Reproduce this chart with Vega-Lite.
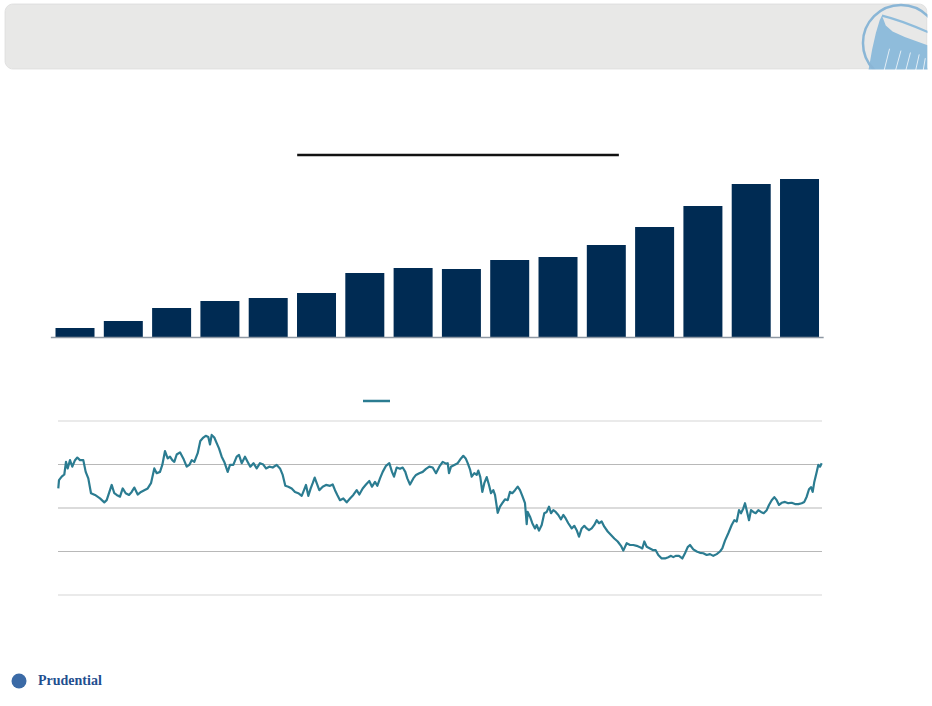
{
  "$schema": "https://vega.github.io/schema/vega-lite/v6.json",
  "width": 932,
  "height": 706,
  "padding": 0,
  "autosize": {"type": "none"},
  "background": "white",
  "config": {"view": {"stroke": null}},
  "datasets": {
    "bars": [
      {"period": 1, "value": 9.5}, {"period": 2, "value": 16.5}, {"period": 3, "value": 29.5},
      {"period": 4, "value": 36.5}, {"period": 5, "value": 39.5}, {"period": 6, "value": 44.5},
      {"period": 7, "value": 64.5}, {"period": 8, "value": 69.5}, {"period": 9, "value": 68.5},
      {"period": 10, "value": 77.5}, {"period": 11, "value": 80.5}, {"period": 12, "value": 92.5},
      {"period": 13, "value": 110.5}, {"period": 14, "value": 131.5}, {"period": 15, "value": 153.5},
      {"period": 16, "value": 158.5}
    ],
    "grid": [{"level": 0}, {"level": 10}, {"level": 20}, {"level": 30}, {"level": 40}],
    "price": [
      {"t": 0.3, "v": 24.5}, {"t": 1.0, "v": 26.4}, {"t": 3.7, "v": 27.2}, {"t": 6.3, "v": 27.7},
      {"t": 8.0, "v": 30.6}, {"t": 9.7, "v": 29.1}, {"t": 12.0, "v": 31.0}, {"t": 14.3, "v": 29.5},
      {"t": 17.0, "v": 31.0}, {"t": 19.3, "v": 31.6}, {"t": 22.0, "v": 31.0}, {"t": 25.3, "v": 31.0},
      {"t": 27.7, "v": 28.3}, {"t": 30.3, "v": 26.8}, {"t": 33.0, "v": 23.4}, {"t": 37.0, "v": 23.0},
      {"t": 42.0, "v": 22.2}, {"t": 46.3, "v": 21.3}, {"t": 48.7, "v": 21.8}, {"t": 51.0, "v": 23.4},
      {"t": 53.7, "v": 25.3}, {"t": 56.3, "v": 23.4}, {"t": 58.7, "v": 23.0}, {"t": 62.0, "v": 22.6},
      {"t": 64.7, "v": 24.5}, {"t": 67.7, "v": 23.4}, {"t": 71.0, "v": 23.0}, {"t": 73.7, "v": 23.7},
      {"t": 76.3, "v": 24.7}, {"t": 79.7, "v": 23.1}, {"t": 83.0, "v": 23.7}, {"t": 86.3, "v": 24.1},
      {"t": 89.7, "v": 24.5}, {"t": 93.0, "v": 25.7}, {"t": 96.3, "v": 29.1}, {"t": 98.7, "v": 28.0},
      {"t": 102.0, "v": 28.3}, {"t": 104.3, "v": 29.9}, {"t": 107.0, "v": 33.1}, {"t": 109.7, "v": 31.4},
      {"t": 112.0, "v": 31.8}, {"t": 114.3, "v": 31.0}, {"t": 116.3, "v": 30.6}, {"t": 118.7, "v": 32.3},
      {"t": 122.0, "v": 32.8}, {"t": 125.3, "v": 31.4}, {"t": 128.7, "v": 29.5}, {"t": 131.3, "v": 29.9},
      {"t": 133.7, "v": 31.0}, {"t": 136.3, "v": 30.6}, {"t": 139.7, "v": 32.6}, {"t": 142.3, "v": 35.4},
      {"t": 145.3, "v": 36.2}, {"t": 147.7, "v": 36.6}, {"t": 150.3, "v": 36.3}, {"t": 152.0, "v": 34.6},
      {"t": 153.7, "v": 36.8}, {"t": 156.3, "v": 36.2}, {"t": 158.7, "v": 34.9}, {"t": 161.0, "v": 33.7},
      {"t": 163.7, "v": 31.8}, {"t": 166.3, "v": 30.6}, {"t": 169.7, "v": 28.3}, {"t": 172.0, "v": 29.9},
      {"t": 175.3, "v": 29.9}, {"t": 178.7, "v": 31.8}, {"t": 181.0, "v": 32.2}, {"t": 183.7, "v": 30.3},
      {"t": 187.0, "v": 31.8}, {"t": 189.7, "v": 30.6}, {"t": 192.3, "v": 29.5}, {"t": 195.5, "v": 30.3},
      {"t": 198.7, "v": 29.1}, {"t": 202.0, "v": 30.3}, {"t": 205.3, "v": 30.0}, {"t": 208.0, "v": 29.1},
      {"t": 211.3, "v": 29.5}, {"t": 214.7, "v": 29.3}, {"t": 218.7, "v": 29.9}, {"t": 222.0, "v": 29.1},
      {"t": 224.7, "v": 27.6}, {"t": 227.3, "v": 25.1}, {"t": 230.3, "v": 24.9}, {"t": 233.7, "v": 24.5},
      {"t": 237.0, "v": 23.7}, {"t": 240.3, "v": 23.4}, {"t": 243.7, "v": 22.8}, {"t": 246.0, "v": 24.1},
      {"t": 248.0, "v": 25.3}, {"t": 250.3, "v": 22.8}, {"t": 252.7, "v": 24.5}, {"t": 254.7, "v": 25.7},
      {"t": 256.7, "v": 27.0}, {"t": 258.7, "v": 25.7}, {"t": 261.3, "v": 24.1}, {"t": 264.7, "v": 24.9},
      {"t": 268.0, "v": 25.3}, {"t": 272.0, "v": 25.1}, {"t": 274.7, "v": 25.4}, {"t": 277.0, "v": 24.1},
      {"t": 279.3, "v": 23.0}, {"t": 282.0, "v": 21.8}, {"t": 285.3, "v": 22.2}, {"t": 288.7, "v": 21.3},
      {"t": 292.0, "v": 22.2}, {"t": 295.3, "v": 23.0}, {"t": 298.7, "v": 24.1}, {"t": 301.3, "v": 23.1},
      {"t": 304.7, "v": 24.5}, {"t": 308.0, "v": 25.4}, {"t": 311.3, "v": 26.2}, {"t": 314.0, "v": 24.9},
      {"t": 317.0, "v": 26.0}, {"t": 319.3, "v": 25.1}, {"t": 322.0, "v": 26.8}, {"t": 324.7, "v": 28.3},
      {"t": 328.0, "v": 29.7}, {"t": 331.3, "v": 30.3}, {"t": 334.0, "v": 28.3}, {"t": 336.0, "v": 27.2},
      {"t": 338.7, "v": 29.3}, {"t": 342.0, "v": 29.0}, {"t": 344.7, "v": 29.3}, {"t": 347.3, "v": 28.3},
      {"t": 349.3, "v": 26.8}, {"t": 352.0, "v": 25.4}, {"t": 355.3, "v": 26.8}, {"t": 358.0, "v": 27.6},
      {"t": 361.3, "v": 28.0}, {"t": 364.7, "v": 28.3}, {"t": 368.0, "v": 29.0}, {"t": 371.3, "v": 29.5},
      {"t": 374.7, "v": 29.3}, {"t": 378.0, "v": 28.0}, {"t": 381.3, "v": 29.5}, {"t": 384.7, "v": 30.6},
      {"t": 388.0, "v": 30.2}, {"t": 389.7, "v": 30.3}, {"t": 391.0, "v": 28.0}, {"t": 393.0, "v": 29.5},
      {"t": 396.3, "v": 29.9}, {"t": 399.7, "v": 30.3}, {"t": 403.0, "v": 31.4}, {"t": 405.3, "v": 32.0},
      {"t": 407.7, "v": 31.4}, {"t": 409.7, "v": 30.3}, {"t": 412.0, "v": 28.9}, {"t": 413.7, "v": 27.2},
      {"t": 416.3, "v": 28.0}, {"t": 418.7, "v": 27.6}, {"t": 420.3, "v": 28.6}, {"t": 422.3, "v": 27.1},
      {"t": 424.3, "v": 23.7}, {"t": 426.3, "v": 25.7}, {"t": 428.7, "v": 27.1}, {"t": 431.0, "v": 25.3},
      {"t": 433.0, "v": 23.4}, {"t": 435.3, "v": 24.1}, {"t": 437.0, "v": 23.0}, {"t": 439.7, "v": 18.9},
      {"t": 442.0, "v": 20.3}, {"t": 444.3, "v": 21.1}, {"t": 447.0, "v": 22.0}, {"t": 449.7, "v": 21.8},
      {"t": 452.0, "v": 23.7}, {"t": 454.3, "v": 23.4}, {"t": 457.0, "v": 24.1}, {"t": 459.7, "v": 24.9},
      {"t": 462.0, "v": 24.1}, {"t": 464.3, "v": 22.8}, {"t": 467.0, "v": 21.1}, {"t": 468.7, "v": 16.3},
      {"t": 469.7, "v": 19.1}, {"t": 472.0, "v": 18.0}, {"t": 474.3, "v": 16.5}, {"t": 477.0, "v": 15.3},
      {"t": 478.7, "v": 16.1}, {"t": 481.0, "v": 14.8}, {"t": 483.7, "v": 16.1}, {"t": 486.3, "v": 18.8},
      {"t": 488.7, "v": 19.1}, {"t": 491.0, "v": 20.3}, {"t": 493.0, "v": 18.8}, {"t": 495.3, "v": 19.5},
      {"t": 497.7, "v": 19.1}, {"t": 500.3, "v": 18.4}, {"t": 503.0, "v": 17.4}, {"t": 505.3, "v": 18.4},
      {"t": 507.7, "v": 17.6}, {"t": 510.3, "v": 16.5}, {"t": 513.7, "v": 15.3}, {"t": 516.3, "v": 15.9},
      {"t": 518.7, "v": 14.9}, {"t": 521.0, "v": 13.4}, {"t": 523.7, "v": 15.3}, {"t": 526.3, "v": 15.9},
      {"t": 528.7, "v": 15.3}, {"t": 531.0, "v": 14.9}, {"t": 533.7, "v": 15.3}, {"t": 536.3, "v": 16.1},
      {"t": 538.7, "v": 17.2}, {"t": 541.0, "v": 16.5}, {"t": 543.7, "v": 16.9}, {"t": 546.3, "v": 15.7},
      {"t": 549.7, "v": 14.6}, {"t": 553.0, "v": 13.8}, {"t": 556.3, "v": 13.0}, {"t": 559.7, "v": 12.3},
      {"t": 563.0, "v": 11.3}, {"t": 565.3, "v": 10.2}, {"t": 568.7, "v": 11.9}, {"t": 572.0, "v": 11.5},
      {"t": 575.3, "v": 11.5}, {"t": 578.7, "v": 11.3}, {"t": 582.0, "v": 11.0}, {"t": 584.3, "v": 10.7},
      {"t": 586.3, "v": 12.3}, {"t": 588.7, "v": 11.1}, {"t": 592.0, "v": 10.7}, {"t": 595.3, "v": 10.3},
      {"t": 597.7, "v": 10.3}, {"t": 600.3, "v": 9.2}, {"t": 603.7, "v": 8.4}, {"t": 607.0, "v": 8.4},
      {"t": 610.3, "v": 8.7}, {"t": 613.0, "v": 9.0}, {"t": 615.3, "v": 8.7}, {"t": 617.7, "v": 9.0},
      {"t": 621.0, "v": 9.0}, {"t": 624.3, "v": 8.4}, {"t": 627.0, "v": 9.6}, {"t": 629.7, "v": 11.0},
      {"t": 632.0, "v": 11.5}, {"t": 635.3, "v": 10.5}, {"t": 638.7, "v": 10.0}, {"t": 642.0, "v": 9.7},
      {"t": 645.3, "v": 9.6}, {"t": 648.7, "v": 9.2}, {"t": 652.0, "v": 9.4}, {"t": 655.3, "v": 9.0},
      {"t": 658.7, "v": 9.4}, {"t": 662.0, "v": 10.0}, {"t": 664.3, "v": 10.7}, {"t": 667.0, "v": 12.5},
      {"t": 670.3, "v": 14.2}, {"t": 673.7, "v": 16.1}, {"t": 676.3, "v": 17.2}, {"t": 678.7, "v": 16.9},
      {"t": 681.0, "v": 19.5}, {"t": 683.0, "v": 18.8}, {"t": 685.3, "v": 19.9}, {"t": 687.0, "v": 21.1},
      {"t": 688.7, "v": 19.5}, {"t": 691.0, "v": 17.2}, {"t": 693.0, "v": 19.5}, {"t": 695.3, "v": 19.1},
      {"t": 697.7, "v": 18.8}, {"t": 700.3, "v": 19.5}, {"t": 703.0, "v": 19.1}, {"t": 705.7, "v": 18.8},
      {"t": 708.7, "v": 19.5}, {"t": 711.0, "v": 20.7}, {"t": 713.7, "v": 21.8}, {"t": 716.3, "v": 22.5},
      {"t": 718.7, "v": 21.8}, {"t": 721.0, "v": 20.7}, {"t": 723.7, "v": 21.2}, {"t": 727.0, "v": 21.4},
      {"t": 730.3, "v": 21.1}, {"t": 733.7, "v": 21.2}, {"t": 737.0, "v": 20.9}, {"t": 740.3, "v": 20.9},
      {"t": 743.7, "v": 21.1}, {"t": 746.3, "v": 21.4}, {"t": 748.7, "v": 22.6}, {"t": 751.0, "v": 24.3},
      {"t": 753.0, "v": 24.8}, {"t": 754.7, "v": 23.7}, {"t": 756.3, "v": 26.0}, {"t": 758.7, "v": 28.3},
      {"t": 760.3, "v": 29.9}, {"t": 762.0, "v": 29.5}, {"t": 763.7, "v": 30.3}
    ]
  },
  "layer": [
    {
      "data": {"values": [{}]},
      "layer": [
        {
          "mark": {"type": "rect", "cornerRadius": 8, "fill": "#e8e8e7", "stroke": "#dcdcdc", "strokeWidth": 0.8},
          "encoding": {
            "x": {"datum": 0.54, "type": "quantitative", "scale": {"domain": [0, 100], "nice": false, "padding": 0}, "axis": null},
            "x2": {"datum": 99.46},
            "y": {"datum": 0.57, "type": "quantitative", "scale": {"domain": [0, 100], "reverse": true, "nice": false, "padding": 0}, "axis": null},
            "y2": {"datum": 9.77}
          }
        },
        {
          "mark": {"type": "point", "shape": "M -0.86 0.75 L -0.76 0.18 L -0.66 -0.26 L -0.56 -0.6 L -0.5 -0.72 L -0.46 -0.62 L -0.4 -0.46 L -0.22 -0.3 L 0.1 -0.16 L 0.7 0.06 L 0.7 0.75 Z", "filled": true, "fill": "#8fbcdb", "opacity": 1, "size": 5776},
          "encoding": {
            "x": {"datum": 96.67, "type": "quantitative", "axis": null},
            "y": {"datum": 6.09, "type": "quantitative", "axis": null}
          }
        },
        {
          "mark": {"type": "point", "shape": "M -0.45 0.75 L -0.3 0.15 M -0.15 0.75 L 0.0 0.2 M 0.12 0.75 L 0.25 0.25 M 0.38 0.75 L 0.48 0.3 M 0.58 0.75 L 0.64 0.4", "filled": false, "stroke": "#ffffff", "strokeWidth": 1, "opacity": 0.75, "size": 5776},
          "encoding": {
            "x": {"datum": 96.67, "type": "quantitative", "axis": null},
            "y": {"datum": 6.09, "type": "quantitative", "axis": null}
          }
        },
        {
          "mark": {"type": "point", "shape": "M -0.5 -0.72 Q 0 -0.6 0.72 -0.28", "filled": false, "stroke": "#8fbcdb", "strokeWidth": 2.2, "opacity": 1, "size": 5776},
          "encoding": {
            "x": {"datum": 96.67, "type": "quantitative", "axis": null},
            "y": {"datum": 6.09, "type": "quantitative", "axis": null}
          }
        },
        {
          "mark": {"type": "point", "shape": "circle", "filled": false, "stroke": "#8ab6d6", "strokeWidth": 2.5, "opacity": 1, "size": 5776},
          "encoding": {
            "x": {"datum": 96.67, "type": "quantitative", "axis": null},
            "y": {"datum": 6.09, "type": "quantitative", "axis": null}
          }
        },
        {
          "mark": {"type": "rect", "fill": "#ffffff"},
          "encoding": {
            "x": {"datum": 90.13, "type": "quantitative", "axis": null},
            "x2": {"datum": 100},
            "y": {"datum": 9.84, "type": "quantitative", "axis": null},
            "y2": {"datum": 13.5}
          }
        },
        {
          "mark": {"type": "rect", "fill": "#ffffff"},
          "encoding": {
            "x": {"datum": 99.52, "type": "quantitative", "axis": null},
            "x2": {"datum": 100},
            "y": {"datum": 0, "type": "quantitative", "axis": null},
            "y2": {"datum": 10}
          }
        },
        {
          "mark": {"type": "point", "shape": "circle", "filled": true, "fill": "#3b6aa6", "opacity": 1, "size": 225},
          "encoding": {
            "x": {"datum": 2.04, "type": "quantitative", "axis": null},
            "y": {"datum": 96.46, "type": "quantitative", "axis": null}
          }
        },
        {
          "mark": {"type": "text", "text": "Prudential", "font": "Liberation Serif", "fontWeight": "bold", "fontSize": 14, "fill": "#1f4f8f", "align": "left", "baseline": "middle"},
          "encoding": {
            "x": {"datum": 4.08, "type": "quantitative", "axis": null},
            "y": {"datum": 96.46, "type": "quantitative", "axis": null}
          }
        }
      ]
    },
    {
      "layer": [
        {
          "data": {"name": "bars"},
          "mark": {"type": "bar", "orient": "vertical", "width": 39, "color": "#002b53"},
          "encoding": {
            "x": {"field": "period", "type": "quantitative", "scale": {"domain": [-0.553, 18.743], "nice": false, "padding": 0}, "axis": null},
            "y": {"field": "value", "type": "quantitative", "scale": {"domain": [-368.5, 337.5], "nice": false, "zero": false, "padding": 0}, "axis": null}
          }
        },
        {
          "data": {"values": [{}]},
          "mark": {"type": "rule", "color": "#8e98a3", "strokeWidth": 1.5},
          "encoding": {
            "x": {"datum": 0.5, "type": "quantitative", "axis": null},
            "x2": {"datum": 16.5},
            "y": {"datum": 0, "type": "quantitative", "axis": null}
          }
        },
        {
          "data": {"values": [{}]},
          "mark": {"type": "rule", "color": "#111111", "strokeWidth": 2.5},
          "encoding": {
            "x": {"datum": 5.6, "type": "quantitative", "axis": null},
            "x2": {"datum": 12.26},
            "y": {"datum": 182.5, "type": "quantitative", "axis": null}
          }
        }
      ]
    },
    {
      "layer": [
        {
          "data": {"name": "grid"},
          "mark": {"type": "rule", "strokeWidth": 1.2},
          "encoding": {
            "x": {"datum": 0, "type": "quantitative", "scale": {"domain": [-58, 874], "nice": false, "padding": 0}, "axis": null},
            "x2": {"datum": 764},
            "y": {"field": "level", "type": "quantitative", "scale": {"domain": [-25.517, 136.782], "nice": false, "zero": false, "padding": 0}, "axis": null},
            "color": {"condition": {"test": "datum.level == 0 || datum.level == 40", "value": "#d6d6d6"}, "value": "#b8b8b8"}
          }
        },
        {
          "data": {"name": "price"},
          "mark": {"type": "line", "color": "#2b7c91", "strokeWidth": 2.2, "strokeJoin": "round"},
          "encoding": {
            "x": {"field": "t", "type": "quantitative", "axis": null},
            "y": {"field": "v", "type": "quantitative", "axis": null}
          }
        },
        {
          "data": {"values": [{}]},
          "mark": {"type": "rule", "color": "#2b7c91", "strokeWidth": 2.5},
          "encoding": {
            "x": {"datum": 305, "type": "quantitative", "axis": null},
            "x2": {"datum": 332},
            "y": {"datum": 44.6, "type": "quantitative", "axis": null}
          }
        }
      ]
    }
  ],
  "resolve": {"scale": {"x": "independent", "y": "independent"}}
}
